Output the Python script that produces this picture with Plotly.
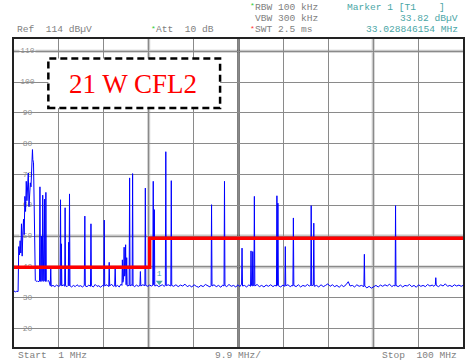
import plotly.graph_objects as go

# ---------------- data ----------------
freq_mhz = [
    1.0, 1.3, 1.6, 1.9, 2.05, 2.2, 2.35, 2.5, 2.65, 2.8, 2.95, 3.1, 3.25, 3.4, 3.55,
    3.7, 3.85, 4.0, 4.15, 4.3, 4.45, 4.6, 4.75, 4.85, 5.0, 5.07, 5.15, 5.3, 5.45, 5.55,
    5.7, 5.9, 6.1, 6.3, 6.5, 6.62, 6.72, 6.82, 6.95, 7.05, 7.15, 7.25, 7.33, 7.42, 7.55,
    7.65, 7.75, 7.85, 7.95, 8.03, 8.12, 8.3, 8.5, 8.7, 8.85,
    9.0, 9.1, 9.2, 9.6, 10.0, 10.4, 10.8, 11.15, 11.26, 11.36, 11.45, 11.55, 11.9, 12.17,
    12.27, 12.37, 12.7, 12.95, 13.05, 13.14, 13.24, 13.34, 13.7, 14.1, 14.5, 14.9, 15.3,
    15.7, 16.1, 16.5, 16.62, 16.72, 17.1, 17.5, 17.87, 17.97, 18.07, 18.5, 18.9, 19.3,
    19.7, 20.1, 20.5, 20.8, 20.9, 21.0, 21.5, 21.9, 21.99, 22.1, 22.5, 22.9, 23.2, 23.31,
    23.42, 23.8, 24.2, 24.6, 24.8, 24.9, 25.0, 25.15, 25.28, 25.4, 25.5, 25.61, 25.72,
    25.85, 25.95, 26.39, 26.49, 26.59, 26.9, 27.05, 27.15, 27.25, 27.6, 28.0, 28.4, 28.77,
    28.87, 28.97, 29.4, 29.86, 29.96, 30.06, 30.5, 30.9, 31.3, 31.6, 31.7, 31.8, 31.94,
    32.04, 32.5, 32.9, 33.3, 33.7, 34.1, 34.37, 34.47, 34.57, 35.0, 35.58, 35.68, 35.78,
    36.2, 36.7, 37.2, 37.7, 38.2, 38.7, 39.2, 39.7, 40.2, 40.7, 41.2, 41.7, 42.2, 42.7,
    43.2, 43.7, 44.2, 44.46, 44.56, 44.66, 45.1, 45.6, 46.1, 46.6, 47.0, 47.31, 47.41,
    47.51, 47.9, 48.4, 48.9, 49.4, 49.9, 50.4, 50.8, 51.18, 51.28, 51.38, 51.8, 52.3,
    52.8, 53.16, 53.26, 53.36, 53.55, 53.65, 53.75, 53.9, 54.0, 54.1, 54.6, 55.1, 55.6,
    56.1, 56.6, 57.1, 57.6, 58.1, 58.5, 58.87, 58.97, 59.07, 59.19, 59.29, 59.8, 60.3,
    60.72, 60.82, 60.92, 61.4, 61.9, 62.3, 62.5, 62.6, 62.7, 63.2, 63.7, 64.2, 64.7, 65.2,
    65.7, 66.1, 66.43, 66.53, 66.63, 67.0, 67.1, 67.2, 67.7, 68.2, 68.7, 69.2, 69.7, 70.2,
    70.7, 71.2, 71.7, 72.2, 72.7, 73.2, 73.7, 74.2, 74.7, 75.1, 75.6, 76.1, 76.6, 77.1,
    77.6, 78.15, 78.25, 78.35, 78.8, 79.3, 79.8, 80.3, 80.8, 81.3, 81.8, 82.3, 82.8, 83.3,
    83.8, 84.3, 84.7, 85.03, 85.13, 85.23, 85.7, 86.2, 86.7, 87.2, 87.7, 88.2, 88.7, 89.2,
    89.7, 90.2, 90.7, 91.2, 91.7, 92.2, 92.7, 93.2, 93.6, 93.9, 94.0, 94.1, 94.6, 95.1,
    95.6, 96.1, 96.6, 97.1, 97.6, 98.1, 98.6, 99.1, 99.6, 100.0,
]
level_dbuv = [
    32.2, 31.9, 32.1, 32.0, 46.6, 43.9, 48.5, 44.5, 54.0, 43.5, 51.0, 55.5, 50.5, 62.9, 58.0,
    67.8, 61.5, 66.0, 70.5, 59.6, 64.5, 67.3, 66.0, 73.2, 75.0, 78.1, 74.9, 73.8, 60.0, 38.0,
    35.6, 35.3, 35.5, 35.2, 35.5, 35.4, 66.0, 35.3, 35.6, 50.0, 35.3, 35.5, 63.3, 35.4, 35.3,
    35.6, 62.0, 35.4, 35.3, 64.2, 35.5, 35.3, 35.6, 35.4, 34.2,
    33.9, 39.6, 33.7, 34.0, 33.6, 34.1, 33.7, 33.9, 61.8, 34.0, 47.5, 33.8, 34.2, 33.7,
    59.2, 33.9, 33.6, 34.0, 48.0, 33.8, 63.7, 33.9, 33.5, 34.0, 33.6, 34.2, 33.7,
    33.9, 33.5, 34.0, 56.5, 33.8, 33.6, 34.1, 33.7, 54.0, 33.9, 33.5, 34.3, 33.7,
    33.9, 33.4, 34.0, 33.7, 55.2, 33.9, 34.2, 33.6, 41.5, 33.8, 34.4, 33.7, 33.9, 39.6,
    33.6, 34.0, 33.5, 34.4, 34.0, 42.3, 35.0, 36.0, 46.4, 37.0, 38.0, 47.2, 34.2,
    43.0, 33.8, 34.0, 68.9, 33.8, 34.2, 33.9, 70.3, 34.0, 33.6, 34.1, 33.7, 34.0,
    38.5, 33.8, 34.2, 33.9, 65.6, 34.0, 33.7, 34.1, 33.8, 34.0, 67.8, 34.2, 58.6,
    33.8, 34.1, 33.6, 33.9, 34.2, 33.7, 34.0, 77.4, 33.9, 34.2, 33.8, 68.0, 34.0,
    33.7, 34.2, 33.6, 34.1, 33.8, 34.4, 33.6, 34.0, 33.5, 34.2, 33.7, 33.4, 34.0, 33.6,
    34.3, 33.8, 33.5, 34.0, 60.2, 33.8, 34.2, 33.6, 34.0, 33.4, 34.1, 33.8, 67.8,
    34.0, 33.6, 34.3, 33.7, 34.0, 33.5, 34.2, 33.6, 34.4, 46.1, 33.8, 34.0, 33.5,
    34.2, 33.7, 45.2, 34.0, 33.8, 45.0, 33.9, 34.0, 62.9, 33.8, 34.3, 33.6, 34.0,
    33.5, 34.1, 33.7, 34.2, 33.6, 34.0, 33.8, 63.1, 34.0, 60.7, 33.9, 33.5, 34.1,
    33.7, 46.6, 33.9, 34.2, 33.6, 34.0, 33.8, 55.9, 34.0, 33.6, 34.2, 33.5, 34.0, 33.7,
    34.3, 33.8, 34.0, 59.9, 33.9, 34.1, 54.2, 33.7, 34.0, 33.5, 34.2, 33.6, 34.0, 34.5,
    33.7, 34.2, 33.6, 34.0, 33.4, 34.1, 33.6, 34.2, 35.2, 33.8, 34.0, 33.5, 34.2, 33.7,
    34.0, 33.6, 44.1, 33.8, 33.2, 33.7, 33.1, 33.6, 34.0, 33.5, 34.1, 33.7, 34.2, 33.8,
    34.4, 33.6, 34.0, 33.8, 59.9, 34.0, 33.6, 34.1, 33.5, 34.0, 33.8, 34.3, 33.6, 34.0,
    33.4, 34.2, 33.7, 34.0, 33.6, 34.3, 33.8, 34.1, 33.7, 34.2, 36.5, 34.0, 33.6, 34.2,
    33.8, 34.5, 33.7, 34.0, 33.6, 34.2, 33.8, 34.1, 33.7, 34.0,
]

limit_freq = [1.0, 30.9, 30.9, 100.0]
limit_db = [39.9, 39.9, 49.3, 49.3]

marker_freq = [33.03]
marker_db = [35.0]

y_tick_values = [110, 100, 90, 80, 70, 60, 50, 40, 30, 20]
light_h_lines = [110, 50, 40]
light_v_lines = [30.7, 80.2]
center_line = 50.5

# ---------------- layout helpers ----------------
W, H = 466, 362
L, T, PW, PH = 14, 39, 451, 308
X_RANGE = [1, 100]


def px(x):
    return (x - L) / PW


def py(y):
    return 1 - (y - T) / PH


def px_to_freq(x):
    return X_RANGE[0] + px(x) * (X_RANGE[1] - X_RANGE[0])


GRAY = "#7f7f7f"
TEAL = "#4aa6a6"
MONO = "Liberation Mono"

fig = go.Figure()

# y tick labels drawn inside the plot, beneath the traces
fig.add_trace(go.Scatter(
    x=[px_to_freq(27.5)] * len(y_tick_values), y=y_tick_values,
    text=[str(v) for v in y_tick_values], mode="text",
    textfont=dict(family=MONO, size=8, color="#8c8c8c"),
    hoverinfo="skip", showlegend=False,
))
fig.add_trace(go.Scatter(
    x=freq_mhz, y=level_dbuv, mode="lines",
    line=dict(color="#0000ff", width=1), hoverinfo="skip", showlegend=False,
))
fig.add_trace(go.Scatter(
    x=limit_freq, y=limit_db, mode="lines",
    line=dict(color="#ff0000", width=3.5), hoverinfo="skip", showlegend=False,
))
fig.add_trace(go.Scatter(
    x=marker_freq, y=marker_db, mode="markers+text", text=["1"],
    textposition="top center", textfont=dict(family=MONO, size=8, color=TEAL),
    marker=dict(symbol="triangle-down", size=6, color=TEAL),
    hoverinfo="skip", showlegend=False,
))

shapes = []
for v in light_h_lines:
    shapes.append(dict(type="line", xref="paper", x0=0, x1=1, yref="y", y0=v, y1=v,
                       line=dict(color="#c8c8c8", width=3), layer="between"))
for v in light_v_lines:
    shapes.append(dict(type="line", yref="paper", y0=0, y1=1, xref="x", x0=v, x1=v,
                       line=dict(color="#c8c8c8", width=3), layer="between"))
shapes.append(dict(type="line", yref="paper", y0=0, y1=1, xref="x", x0=center_line, x1=center_line,
                   line=dict(color="#000000", width=2), layer="between"))
# white gaps in grid lines behind tick labels
for v in y_tick_values:
    shapes.append(dict(type="rect", xref="paper", yref="y", x0=px(19.5), x1=px(35.5),
                       y0=v - 1.3, y1=v + 1.3, fillcolor="white", line=dict(width=0),
                       layer="between"))
# title box
shapes.append(dict(type="rect", xref="paper", yref="paper",
                   x0=px(48.5), x1=px(221), y0=py(108), y1=py(58.5),
                   fillcolor="white", line=dict(color="black", width=2.5, dash="7px,4px"),
                   layer="above"))

annotations = []


def label(x, y, text, color=GRAY, anchor="left", size=9.6):
    annotations.append(dict(
        x=px(x), y=py(y), xref="paper", yref="paper", text=text, showarrow=False,
        xanchor=anchor, yanchor="middle", font=dict(family=MONO, size=size, color=color)))


label(15, 30, "Ref  114 dBµV")
label(150, 28.5, "*", color="#33cc33", size=8)
label(155, 30, "Att  10 dB")
label(249, 6, "*", color="#33cc33", size=8)
label(254.5, 7.5, "RBW 100 kHz")
label(254.5, 18.5, "VBW 300 kHz")
label(249, 28.5, "*", color="#ff3333", size=8)
label(254.5, 30, "SWT 2.5 ms")
label(346, 7.5, "Marker 1 [T1    ]", color=TEAL)
label(462, 18.5, "33.82 dBµV", color=TEAL, anchor="right")
label(462, 30, "33.028846154 MHz", color=TEAL, anchor="right")
label(16, 355, "Start  1 MHz")
label(239, 355, "9.9 MHz/", anchor="center")
label(461, 355, "Stop  100 MHz", anchor="right")

annotations.append(dict(
    x=px(134), y=py(84), xref="paper", yref="paper", text="21 W CFL2", showarrow=False,
    xanchor="center", yanchor="middle",
    font=dict(family="Liberation Serif", size=27, color="#ff0000")))

fig.update_layout(
    width=W, height=H,
    margin=dict(l=L, r=W - L - PW, t=T, b=H - T - PH, pad=0),
    paper_bgcolor="white", plot_bgcolor="white",
    showlegend=False,
    shapes=shapes, annotations=annotations,
    xaxis=dict(range=X_RANGE, tick0=1, dtick=9.9, showgrid=True, gridcolor="#8a8a8a",
               gridwidth=1, showticklabels=False, ticks="", zeroline=False,
               showline=True, mirror=True, linecolor="#222222", linewidth=2),
    yaxis=dict(range=[14, 114], tick0=0, dtick=10, showgrid=True, gridcolor="#8a8a8a",
               gridwidth=1, showticklabels=False, ticks="", zeroline=False,
               showline=True, mirror=True, linecolor="#222222", linewidth=2),
)

fig.write_html("out.html")
